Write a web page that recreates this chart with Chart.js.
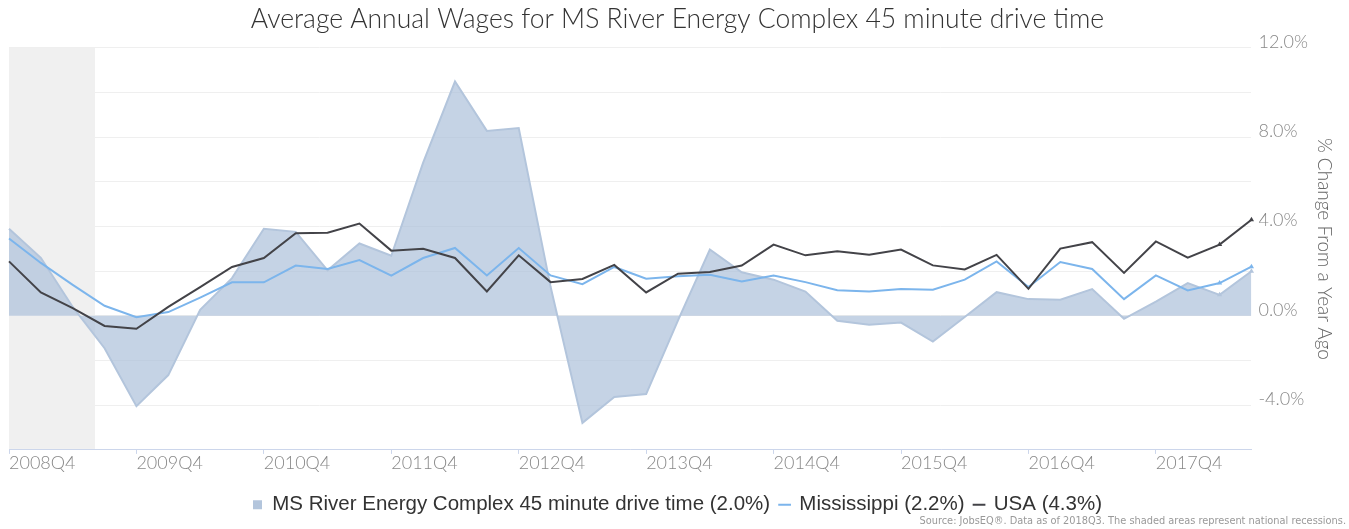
<!DOCTYPE html>
<html>
<head>
<meta charset="utf-8">
<script src="https://cdn.jsdelivr.net/npm/chart.js@4"></script>
<style>
  html, body { margin: 0; padding: 0; background: #fff; }
</style>
</head>
<body>
<canvas id="wages" width="1349" height="529"></canvas>
<script>
// quarters, 2008Q4 .. 2018Q3
const quarters = [
  "2008Q4", "2009Q1", "2009Q2", "2009Q3", "2009Q4", "2010Q1", "2010Q2", "2010Q3",
  "2010Q4", "2011Q1", "2011Q2", "2011Q3", "2011Q4", "2012Q1", "2012Q2", "2012Q3",
  "2012Q4", "2013Q1", "2013Q2", "2013Q3", "2013Q4", "2014Q1", "2014Q2", "2014Q3",
  "2014Q4", "2015Q1", "2015Q2", "2015Q3", "2015Q4", "2016Q1", "2016Q2", "2016Q3",
  "2016Q4", "2017Q1", "2017Q2", "2017Q3", "2017Q4", "2018Q1", "2018Q2", "2018Q3"
];

// % change from a year ago
const msRiver = [
  3.9, 2.6, 0.4, -1.45, -4.04, -2.65, 0.27, 1.69, 3.9, 3.76,
  2.04, 3.24, 2.69, 6.86, 10.49, 8.28, 8.41, 1.3, -4.79, -3.63,
  -3.5, -0.2, 2.97, 1.95, 1.62, 1.09, -0.22, -0.4, -0.3, -1.15,
  -0.05, 1.06, 0.75, 0.72, 1.2, -0.13, 0.64, 1.47, 0.94, 2.0
];
const mississippi = [
  3.46, 2.37, 1.39, 0.45, -0.06, 0.17, 0.82, 1.5, 1.5, 2.25,
  2.1, 2.5, 1.8, 2.59, 3.04, 1.81, 3.04, 1.81, 1.42, 2.19,
  1.66, 1.77, 1.84, 1.54, 1.81, 1.51, 1.15, 1.09, 1.2, 1.17,
  1.62, 2.44, 1.29, 2.41, 2.1, 0.75, 1.81, 1.14, 1.47, 2.2
];
const usa = [
  2.44, 1.05, 0.35, -0.45, -0.58, 0.4, 1.29, 2.19, 2.59, 3.7,
  3.72, 4.13, 2.92, 3.0, 2.59, 1.09, 2.71, 1.51, 1.65, 2.28,
  1.05, 1.89, 1.96, 2.25, 3.19, 2.71, 2.89, 2.74, 2.97, 2.26,
  2.08, 2.73, 1.21, 3.01, 3.3, 1.92, 3.33, 2.61, 3.19, 4.3
];

const seriesNames = [
  "MS River Energy Complex 45 minute drive time (2.0%)",
  "Mississippi (2.2%)",
  "USA (4.3%)"
];

// recession band, in category index units (2008Q4 -> mid 2009)
const recession = [0, 2.7];

const tickFont = { family: "Lato", size: 18, weight: "300" };

// only the last two quarters get a small marker
const lastMarks = ctx => (ctx.dataIndex >= quarters.length - 2 ? 3 : 0);

const recessionBand = {
  id: "recessionBand",
  beforeDatasetsDraw(chart) {
    const { ctx, chartArea, scales } = chart;
    const x0 = scales.x.getPixelForValue(recession[0]);
    const x1 = scales.x.getPixelForValue(recession[1]);
    ctx.save();
    ctx.fillStyle = "#f0f0f0";
    ctx.fillRect(x0, chartArea.top, x1 - x0, chartArea.bottom - chartArea.top - 1);
    ctx.restore();
  }
};

const sourceNote = {
  id: "sourceNote",
  afterDraw(chart) {
    const ctx = chart.ctx;
    ctx.save();
    ctx.font = "9.8px 'DejaVu Sans'";
    ctx.fillStyle = "#999";
    ctx.textAlign = "right";
    ctx.textBaseline = "middle";
    ctx.fillText("Source: JobsEQ\u00AE. Data as of 2018Q3. The shaded areas represent national recessions.", chart.width - 3, 521);
    ctx.restore();
  }
};

new Chart(document.getElementById("wages"), {
  type: "line",
  data: {
    labels: quarters,
    datasets: [
      {
        label: seriesNames[0],
        data: msRiver,
        fill: "origin",
        backgroundColor: "rgba(172,192,218,0.7)",
        borderColor: "#b3c5dc",
        borderWidth: 2,
        pointStyle: "triangle",
        pointRadius: lastMarks,
        pointBackgroundColor: "#b3c5dc",
        pointBorderWidth: 0,
        tension: 0,
        order: 3
      },
      {
        label: seriesNames[1],
        data: mississippi,
        fill: false,
        borderColor: "#7cb5ec",
        backgroundColor: "#7cb5ec",
        borderWidth: 2,
        pointStyle: "triangle",
        pointRadius: lastMarks,
        pointBorderWidth: 0,
        tension: 0,
        order: 2
      },
      {
        label: seriesNames[2],
        data: usa,
        fill: false,
        borderColor: "#434348",
        backgroundColor: "#434348",
        borderWidth: 2,
        pointStyle: "triangle",
        pointRadius: lastMarks,
        pointBorderWidth: 0,
        tension: 0,
        order: 1
      }
    ]
  },
  options: {
    responsive: false,
    animation: false,
    layout: { padding: { left: 9, right: 3, top: 0, bottom: 4 } },
    plugins: {
      title: {
        display: true,
        text: "Average Annual Wages for MS River Energy Complex 45 minute drive time",
        font: { family: "Lato", size: 26.5, weight: "300" },
        color: "#333",
        padding: { top: 4, bottom: 12 }
      },
      legend: {
        position: "bottom",
        labels: {
          usePointStyle: true,
          boxWidth: 9,
          boxHeight: 9,
          padding: 10,
          color: "#333",
          font: { family: "Liberation Sans", size: 20.5 },
          sort: (a, b) => a.datasetIndex - b.datasetIndex,
          generateLabels(chart) {
            const items = Chart.defaults.plugins.legend.labels.generateLabels(chart);
            return items.map(it => {
              if (it.datasetIndex === 0) {
                it.pointStyle = "rect";
                it.fillStyle = "#b3c5dc";
                it.strokeStyle = "#b3c5dc";
                it.lineWidth = 0;
              } else {
                it.pointStyle = "line";
                it.lineWidth = 2;
              }
              return it;
            });
          }
        }
      },
      tooltip: { enabled: false }
    },
    scales: {
      x: {
        type: "category",
        border: { color: "#ccd6eb" },
        grid: {
          drawOnChartArea: false,
          tickLength: 4,
          color: ctx => (ctx.index % 4 === 0 ? "#ccd6eb" : "rgba(0,0,0,0)")
        },
        ticks: {
          autoSkip: false,
          maxRotation: 0,
          align: "start",
          padding: -2,
          color: "#888",
          font: tickFont,
          callback: (v, i) => (i % 4 === 0 ? quarters[i] : "")
        },
        // extra room between the axis labels and the legend
        afterFit: scale => { scale.height += 13; }
      },
      y: {
        position: "right",
        min: -6,
        max: 12,
        border: { display: false },
        grid: { color: "#efefef", drawTicks: false },
        ticks: {
          stepSize: 2,
          padding: 7,
          labelOffset: -6,
          color: "#888",
          font: tickFont,
          callback: v => (v % 4 === 0 ? v.toFixed(1) + "%" : "")
        },
        title: {
          display: true,
          text: "% Change From a Year Ago",
          color: "#666",
          font: { family: "Lato", size: 19, weight: "300", lineHeight: 1 },
          padding: { top: 12, bottom: 0 }
        }
      }
    }
  },
  plugins: [recessionBand, sourceNote]
});
</script>
</body>
</html>
